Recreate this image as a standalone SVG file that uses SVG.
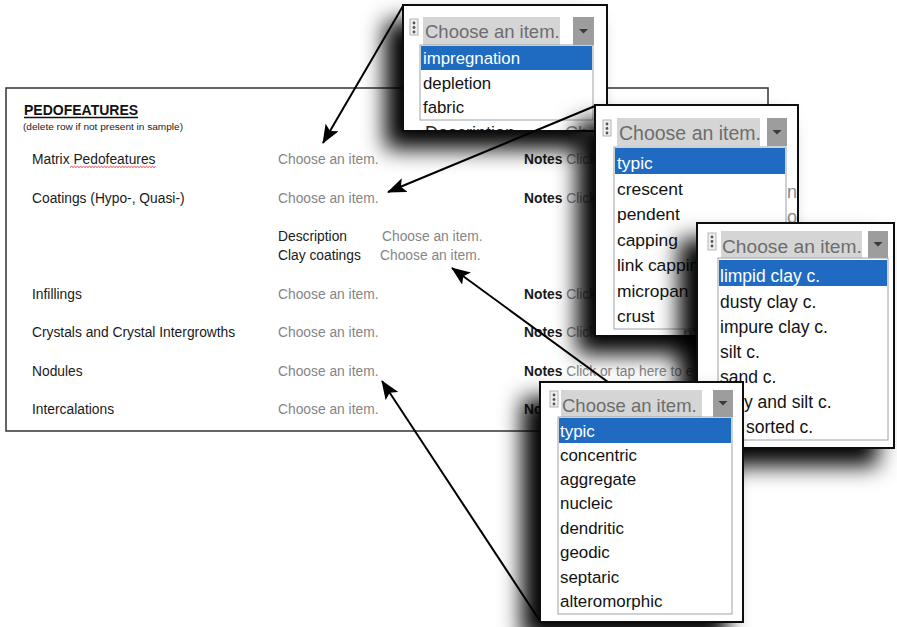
<svg xmlns="http://www.w3.org/2000/svg" width="897" height="627" viewBox="0 0 897 627">
<style>
text{font-family:'Liberation Sans',Arial,sans-serif}
.pop{fill:#fff;stroke:#111;stroke-width:2}
.lb{fill:#fff;stroke:#9aa3ad;stroke-width:1}
.hl{fill:#1f6bc1}
.cmb{fill:#d5d5d5}
.btn{fill:#9d9d9d}
.tri{fill:#3a3a3a}
.hdl{fill:#efefef;stroke:#b3b3b3;stroke-width:1}
.dot{fill:#555}
.ph{fill:#6d6d6d}
.it{fill:#121212}
.sel{fill:#fff}
.lab{font-size:13.8px;fill:#1a1a1a}
.gry{font-size:13.8px;fill:#858585}
.nb{font-weight:bold;fill:#1a1a1a}
.frag{fill:#8a8a8a}
.con{fill:none;stroke:#000;stroke-width:2;marker-end:url(#ah)}
</style>
<defs>
<filter id="sh" x="-50%" y="-50%" width="200%" height="200%">
<feGaussianBlur in="SourceAlpha" stdDeviation="11"/>
<feOffset dx="-17" dy="17"/>
<feComponentTransfer><feFuncA type="linear" slope="1"/></feComponentTransfer>
<feMerge><feMergeNode/><feMergeNode in="SourceGraphic"/></feMerge>
</filter>
<marker id="ah" markerUnits="userSpaceOnUse" markerWidth="20" markerHeight="15" refX="18" refY="7.5" orient="auto">
<path d="M0,0 L19,7.5 L0,15 L4,7.5 z" fill="#000"/>
</marker>
<clipPath id="c1"><rect x="404" y="6" width="202" height="124"/></clipPath>
<clipPath id="c2"><rect x="596" y="106" width="201" height="229"/></clipPath>
</defs>
<rect x="0" y="0" width="897" height="627" fill="#fff"/>

<g id="main-panel">
<rect x="6" y="88" width="762" height="343" fill="#fff" stroke="#333" stroke-width="1.5"/>
<text x="24" y="115" font-size="14" font-weight="bold" fill="#111">PEDOFEATURES</text>
<line x1="24" y1="117.5" x2="138" y2="117.5" stroke="#111" stroke-width="1.3"/>
<text x="23" y="129.5" font-size="9.6" fill="#222" textLength="160" lengthAdjust="spacingAndGlyphs">(delete row if not present in sample)</text>

<text class="lab" x="32" y="164">Matrix Pedofeatures</text>
<path d="M70,167.5 l1.5,-1.2 l1.5,1.2 l1.5,-1.2 l1.5,1.2 l1.5,-1.2 l1.5,1.2 l1.5,-1.2 l1.5,1.2 l1.5,-1.2 l1.5,1.2 l1.5,-1.2 l1.5,1.2 l1.5,-1.2 l1.5,1.2 l1.5,-1.2 l1.5,1.2 l1.5,-1.2 l1.5,1.2 l1.5,-1.2 l1.5,1.2 l1.5,-1.2 l1.5,1.2 l1.5,-1.2 l1.5,1.2 l1.5,-1.2 l1.5,1.2 l1.5,-1.2 l1.5,1.2 l1.5,-1.2 l1.5,1.2 l1.5,-1.2 l1.5,1.2 l1.5,-1.2 l1.5,1.2 l1.5,-1.2 l1.5,1.2 l1.5,-1.2 l1.5,1.2 l1.5,-1.2 l1.5,1.2 l1.5,-1.2 l1.5,1.2 l1.5,-1.2 l1.5,1.2 l1.5,-1.2 l1.5,1.2 l1.5,-1.2 l1.5,1.2 l1.5,-1.2 l1.5,1.2 l1.5,-1.2 l1.5,1.2 l1.5,-1.2 l1.5,1.2 l1.5,-1.2 l1.5,1.2 l1.5,-1.2" fill="none" stroke="#e03030" stroke-width="0.9"/>
<text class="gry" x="278" y="164">Choose an item.</text>
<text class="lab" x="524" y="164"><tspan class="nb">Notes</tspan><tspan fill="#858585"> Click</tspan></text>

<text class="lab" x="32" y="203">Coatings (Hypo-, Quasi-)</text>
<text class="gry" x="278" y="203">Choose an item.</text>
<text class="lab" x="524" y="203"><tspan class="nb">Notes</tspan><tspan fill="#858585"> Click</tspan></text>

<text class="lab" x="278" y="241">Description</text>
<text class="gry" x="382" y="241">Choose an item.</text>
<text class="lab" x="278" y="260">Clay coatings</text>
<text class="gry" x="380" y="260">Choose an item.</text>

<text class="lab" x="32" y="299">Infillings</text>
<text class="gry" x="278" y="299">Choose an item.</text>
<text class="lab" x="524" y="299"><tspan class="nb">Notes</tspan><tspan fill="#858585"> Click</tspan></text>

<text class="lab" x="32" y="337">Crystals and Crystal Intergrowths</text>
<text class="gry" x="278" y="337">Choose an item.</text>
<text class="lab" x="524" y="337"><tspan class="nb">Notes</tspan><tspan fill="#858585"> Click</tspan></text>

<text class="lab" x="32" y="376">Nodules</text>
<text class="gry" x="278" y="376">Choose an item.</text>
<text class="lab" x="524" y="376"><tspan class="nb">Notes</tspan><tspan fill="#858585"> Click or tap here to e</tspan></text>

<text class="lab" x="32" y="414">Intercalations</text>
<text class="gry" x="278" y="414">Choose an item.</text>
<text class="lab" x="524" y="414"><tspan class="nb">No</tspan></text>
</g>

<g id="popup-matrix">
<rect class="pop" x="403" y="5" width="204" height="126" filter="url(#sh)"/>
<g clip-path="url(#c1)">
<text x="425" y="139" font-size="18" fill="#222">Description</text>
<text x="565" y="139" font-size="18" class="frag">Ch</text>
</g>
<rect class="hdl" x="410" y="19" width="8" height="16"/>
<circle class="dot" cx="414" cy="23" r="1.4"/><circle class="dot" cx="414" cy="27.5" r="1.4"/><circle class="dot" cx="414" cy="32" r="1.4"/>
<rect class="cmb" x="423" y="17" width="137" height="28"/>
<rect class="btn" x="573" y="17" width="21" height="28"/>
<path class="tri" d="M579,29 h9 l-4.5,4.5 z"/>
<text class="ph" x="425" y="38" font-size="18.5">Choose an item.</text>
<rect class="lb" x="420" y="45" width="173" height="75"/>
<rect class="hl" x="421" y="46" width="171" height="24"/>
<text class="sel" x="423" y="64" font-size="16.8">impregnation</text>
<text class="it" x="423" y="88.5" font-size="16.8">depletion</text>
<text class="it" x="423" y="113" font-size="16.8">fabric</text>
</g>

<g id="popup-coatings">
<rect class="pop" x="595" y="105" width="203" height="231" filter="url(#sh)"/>
<g clip-path="url(#c2)">
<text x="787" y="198" font-size="18" class="frag">nc</text>
<text x="787" y="223" font-size="18" class="frag">o</text>
<text x="683" y="340" font-size="18" class="frag">m.</text>
</g>
<rect class="hdl" x="603" y="120" width="8" height="16"/>
<circle class="dot" cx="607" cy="124" r="1.4"/><circle class="dot" cx="607" cy="128.5" r="1.4"/><circle class="dot" cx="607" cy="133" r="1.4"/>
<rect class="cmb" x="617" y="118" width="143" height="28"/>
<rect class="btn" x="767" y="118" width="20" height="28"/>
<path class="tri" d="M772.5,130 h9 l-4.5,4.5 z"/>
<text class="ph" x="619" y="140" font-size="19.5">Choose an item.</text>
<rect class="lb" x="614" y="147" width="172" height="182"/>
<rect class="hl" x="615" y="148" width="170" height="26"/>
<text class="sel" x="617" y="169" font-size="17.4">typic</text>
<text class="it" x="617" y="195" font-size="17.4">crescent</text>
<text class="it" x="617" y="220" font-size="17.4">pendent</text>
<text class="it" x="617" y="246" font-size="17.4">capping</text>
<text class="it" x="617" y="271" font-size="17.4">link cappin</text>
<text class="it" x="617" y="297" font-size="17.4">micropan</text>
<text class="it" x="617" y="322" font-size="17.4">crust</text>
</g>

<g id="popup-clay-coatings">
<rect class="pop" x="697" y="223" width="197" height="225" filter="url(#sh)"/>
<rect class="hdl" x="708" y="233" width="8" height="17"/>
<circle class="dot" cx="712" cy="237" r="1.4"/><circle class="dot" cx="712" cy="241.5" r="1.4"/><circle class="dot" cx="712" cy="246" r="1.4"/>
<rect class="cmb" x="721" y="231" width="141" height="27"/>
<rect class="btn" x="868" y="231" width="20" height="27"/>
<path class="tri" d="M873.5,242 h9 l-4.5,4.5 z"/>
<text class="ph" x="722" y="253" font-size="19.2">Choose an item.</text>
<rect class="lb" x="718" y="258" width="170" height="182"/>
<rect class="hl" x="719" y="260" width="168" height="26"/>
<text class="sel" x="720" y="282" font-size="17.5">limpid clay c.</text>
<text class="it" x="720" y="307.5" font-size="17.5">dusty clay c.</text>
<text class="it" x="720" y="333" font-size="17.5">impure clay c.</text>
<text class="it" x="720" y="358" font-size="17.5">silt c.</text>
<text class="it" x="720" y="383" font-size="17.5">sand c.</text>
<text class="it" x="744" y="408" font-size="17.5">y and silt c.</text>
<text class="it" x="746" y="433" font-size="17.5">sorted c.</text>
</g>

<g id="connectors">
<path class="con" d="M403,6 L323,143"/>
<path class="con" d="M595,106 L388,192"/>
<path class="con" d="M697,447 L452,268"/>
<path class="con" d="M540,621 L382,381"/>
</g>

<g id="popup-nodules">
<rect class="pop" x="540" y="382" width="203" height="240" filter="url(#sh)"/>
<rect class="hdl" x="550" y="391" width="8" height="16"/>
<circle class="dot" cx="554" cy="395" r="1.4"/><circle class="dot" cx="554" cy="399.5" r="1.4"/><circle class="dot" cx="554" cy="404" r="1.4"/>
<rect class="cmb" x="561" y="390" width="141" height="27"/>
<rect class="btn" x="713" y="390" width="20" height="27"/>
<path class="tri" d="M718.5,401 h9 l-4.5,4.5 z"/>
<text class="ph" x="562" y="412" font-size="18.5">Choose an item.</text>
<rect class="lb" x="558" y="417" width="174" height="197"/>
<rect class="hl" x="559" y="418" width="172" height="25"/>
<text class="sel" x="560" y="437" font-size="16.9">typic</text>
<text class="it" x="560" y="460.5" font-size="16.9">concentric</text>
<text class="it" x="560" y="485" font-size="16.9">aggregate</text>
<text class="it" x="560" y="509" font-size="16.9">nucleic</text>
<text class="it" x="560" y="534" font-size="16.9">dendritic</text>
<text class="it" x="560" y="558" font-size="16.9">geodic</text>
<text class="it" x="560" y="583" font-size="16.9">septaric</text>
<text class="it" x="560" y="607" font-size="16.9">alteromorphic</text>
</g>
</svg>
